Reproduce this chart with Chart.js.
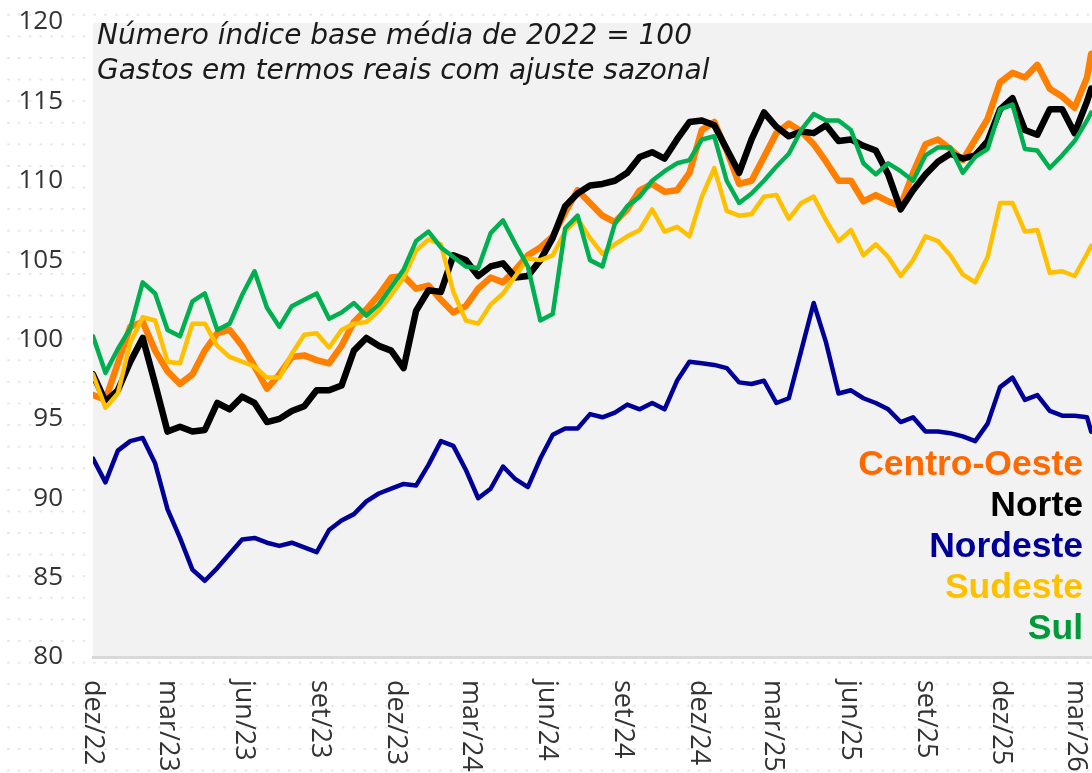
<!DOCTYPE html>
<html>
<head>
<meta charset="utf-8">
<script src="https://cdn.jsdelivr.net/npm/chart.js@4.4.1/dist/chart.umd.min.js"></script>
<style>
html, body { margin: 0; padding: 0; width: 1092px; height: 773px; overflow: hidden; background: #ffffff; }
#wrap { position: relative; width: 1092px; height: 773px; background-color: #ffffff;
  background-image: radial-gradient(circle, #e2e2e2 0.9px, rgba(255,255,255,0) 1.4px);
  background-size: 10.8px 21.6px; background-position: 3px 4px; }
canvas { position: absolute; left: 0; top: 0; }
#title { position: absolute; left: 97px; top: 17px; font: italic 28px 'DejaVu Sans', sans-serif; line-height: 35px; color: #1a1a1a; white-space: nowrap; }
#legend { position: absolute; right: 9px; top: 443px; text-align: right; font: bold 35.5px 'Liberation Sans', Arial, sans-serif; line-height: 41px; white-space: nowrap; }
</style>
</head>
<body>
<div id="wrap">
  <canvas id="c" width="1092" height="773"></canvas>
  <div id="title">Número índice base média de 2022 = 100<br>Gastos em termos reais com ajuste sazonal</div>
  <div id="legend"></div>
</div>
<script>
// days since 01/dez/2022
const days = [0,15,30,45,60,75,90,105,120,135,150,165,180,195,210,225,240,255,270,285,
  300,315,330,345,360,375,390,405,420,435,450,465,480,495,510,525,540,555,570,585,
  600,615,630,645,660,675,690,705,720,735,750,765,780,795,810,825,840,855,870,885,
  900,915,930,945,960,975,990,1005,1020,1035,1050,1065,1080,1095,1110,1125,1140,1155,1170,1185,
  1200,1205];

const centroOeste = [96.5,96.2,98.5,100.8,101.1,99.3,98.0,97.2,97.8,99.3,
  100.4,100.6,99.6,98.3,96.9,97.8,98.9,99.0,98.7,98.5,
  99.6,101.1,101.9,102.8,103.9,104.0,103.2,103.4,102.5,101.7,
  102.1,103.2,103.9,103.6,104.4,105.3,105.8,106.5,108.0,109.4,
  108.6,107.8,107.4,108.2,109.4,109.8,109.3,109.4,110.5,113.2,
  113.7,111.9,109.8,110.0,111.5,113.0,113.6,113.1,112.3,111.2,
  110.0,110.0,108.7,109.1,108.7,108.4,110.5,112.3,112.6,112.0,
  111.3,112.6,113.9,116.2,116.8,116.5,117.3,115.8,115.3,114.6,
  116.5,118.0];

const norte = [97.8,96.1,96.8,98.6,100.1,97.2,94.2,94.5,94.2,94.3,
  96.0,95.6,96.4,96.0,94.8,95.0,95.5,95.8,96.8,96.8,
  97.1,99.3,100.1,99.6,99.3,98.2,101.8,103.1,103.0,105.3,
  105.0,104.0,104.6,104.8,103.9,104.0,105.0,106.4,108.4,109.2,
  109.7,109.8,110.0,110.5,111.5,111.8,111.4,112.6,113.7,113.8,
  113.5,112.0,110.5,112.6,114.3,113.4,112.8,113.1,113.0,113.5,
  112.5,112.6,112.2,111.9,110.4,108.2,109.4,110.4,111.2,111.7,
  111.4,111.6,112.5,114.5,115.2,113.2,112.9,114.5,114.5,113.0,
  115.0,115.8];

const nordeste = [92.5,91.0,93.0,93.6,93.8,92.2,89.3,87.5,85.5,84.8,
  85.6,86.5,87.4,87.5,87.2,87.0,87.2,86.9,86.6,88.0,
  88.6,89.0,89.8,90.3,90.6,90.9,90.8,92.1,93.6,93.3,
  91.8,90.0,90.6,92.0,91.2,90.7,92.5,94.0,94.4,94.4,
  95.3,95.1,95.4,95.9,95.6,96.0,95.6,97.4,98.6,98.5,
  98.4,98.2,97.3,97.2,97.4,96.0,96.3,99.3,102.3,99.8,
  96.6,96.8,96.3,96.0,95.6,94.8,95.1,94.2,94.2,94.1,
  93.9,93.6,94.7,97.0,97.6,96.2,96.5,95.5,95.2,95.2,
  95.1,94.2];

const sudeste = [97.8,95.7,96.6,99.8,101.4,101.2,98.6,98.5,101.0,101.0,
  99.6,98.9,98.6,98.3,97.6,97.6,99.1,100.3,100.4,99.5,
  100.6,101.0,101.1,101.8,102.8,103.9,105.6,106.3,106.0,103.0,
  101.2,101.0,102.2,102.9,104.0,105.1,105.0,105.3,106.8,107.6,
  106.4,105.4,106.0,106.5,106.9,108.2,106.8,107.1,106.5,109.0,
  110.8,108.1,107.8,107.9,109.0,109.1,107.6,108.6,109.0,107.5,
  106.2,106.9,105.3,106.0,105.2,104.0,105.0,106.5,106.2,105.3,
  104.1,103.6,105.2,108.6,108.6,106.8,106.9,104.2,104.3,104.0,
  105.4,105.9];

const sul = [100.2,97.9,99.4,100.7,103.6,102.9,100.6,100.2,102.4,102.9,
  100.6,101.0,102.8,104.3,102.0,100.8,102.1,102.5,102.9,101.3,
  101.7,102.3,101.5,102.2,103.3,104.4,106.2,106.8,105.8,105.2,
  104.6,104.5,106.7,107.5,106.0,104.6,101.2,101.6,107.0,107.8,
  105.0,104.6,107.3,108.4,109.0,110.0,110.6,111.1,111.3,112.6,
  112.8,110.0,108.6,109.2,110.0,110.9,111.7,113.2,114.2,113.8,
  113.8,113.2,111.1,110.4,111.1,110.6,110.0,111.6,112.1,112.1,
  110.5,111.5,112.0,114.5,114.8,112.0,111.9,110.8,111.6,112.5,
  113.8,114.3];

const tickDays = [0,90,182,274,365,456,548,640,731,821,913,1005,1096,1186];
const tickLabels = ['dez/22','mar/23','jun/23','set/23','dez/23','mar/24','jun/24','set/24','dez/24','mar/25','jun/25','set/25','dez/25','mar/26'];

const seriesNames = ['Centro-Oeste','Norte','Nordeste','Sudeste','Sul'];
const lineColors = ['#FF8000','#000000','#000099','#FFC000','#00B050'];
const textColors = ['#FF6A00','#000000','#000099','#FFC000','#009A3A'];

// legend as real text
const leg = document.getElementById('legend');
seriesNames.forEach((n, i) => {
  const d = document.createElement('div');
  d.textContent = n; d.style.color = textColors[i];
  leg.appendChild(d);
});

function mk(label, vals, color, width, order) {
  return { label, data: days.map((d, i) => ({ x: d, y: vals[i] })), borderColor: color,
    backgroundColor: color, borderWidth: width, pointRadius: 0, fill: false, tension: 0,
    order, borderJoinStyle: 'round', borderCapStyle: 'round' };
}

const plotBg = {
  id: 'plotBg',
  beforeDraw(chart) {
    const { ctx, chartArea: a } = chart;
    ctx.save(); ctx.fillStyle = '#F2F2F2';
    ctx.fillRect(a.left, a.top + 1, a.right - a.left, a.bottom - a.top - 1);
    ctx.restore();
  }
};

const xLabels = {
  id: 'xLabels',
  afterDraw(chart) {
    const s = chart.scales.x; const ctx = chart.ctx;
    ctx.save();
    ctx.fillStyle = '#333333'; ctx.font = "27px 'Open Sans'";
    ctx.textAlign = 'left'; ctx.textBaseline = 'middle';
    s.ticks.forEach((t, i) => {
      const x = s.getPixelForValue(t.value);
      ctx.save(); ctx.translate(x, 680); ctx.rotate(Math.PI / 2);
      ctx.fillText(tickLabels[i], 0, 0); ctx.restore();
    });
    ctx.restore();
  }
};

new Chart(document.getElementById('c'), {
  type: 'line',
  data: {
    datasets: [
      mk(seriesNames[0], centroOeste, lineColors[0], 6.5, 5),
      mk(seriesNames[1], norte, lineColors[1], 6.5, 4),
      mk(seriesNames[2], nordeste, lineColors[2], 4.5, 3),
      mk(seriesNames[3], sudeste, lineColors[3], 4.5, 2),
      mk(seriesNames[4], sul, lineColors[4], 4.5, 1)
    ]
  },
  options: {
    responsive: false, animation: false, devicePixelRatio: 1,
    layout: { padding: { top: 22, left: 0, right: 0, bottom: 0 } },
    plugins: { legend: { display: false }, tooltip: { enabled: false } },
    scales: {
      x: {
        type: 'linear', min: 0, max: 1206,
        grid: { display: false, drawTicks: false },
        border: { display: true, color: '#D9D9D9', width: 3 },
        ticks: { display: false },
        afterBuildTicks: s => { s.ticks = tickDays.map(v => ({ value: v })); },
        afterFit: s => { s.height = 116; s.paddingLeft = 0; s.paddingRight = 0; }
      },
      y: {
        min: 80, max: 120,
        grid: { display: false, drawTicks: false },
        border: { display: false },
        ticks: { stepSize: 5, padding: 30, color: '#333333', font: { family: 'Open Sans', size: 26 } },
        afterFit: s => { s.width = 93; s.paddingTop = 0; s.paddingBottom = 0; }
      }
    }
  },
  plugins: [plotBg, xLabels]
});
</script>
</body>
</html>
